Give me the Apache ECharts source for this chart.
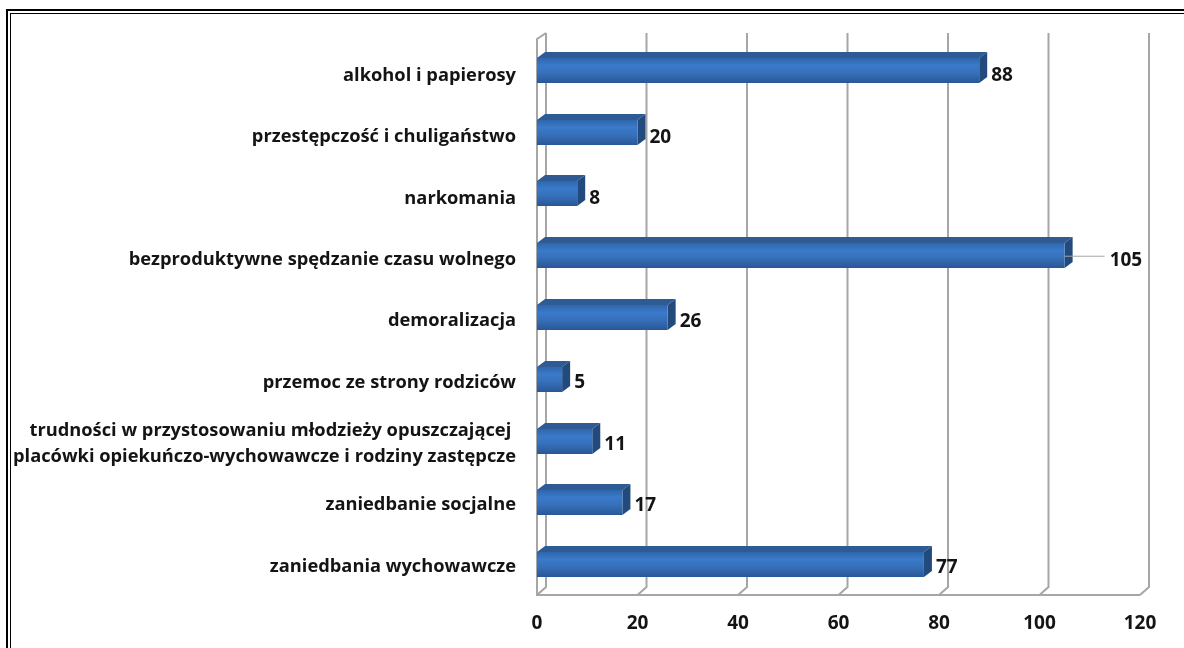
<!DOCTYPE html>
<html>
<head>
<meta charset="utf-8">
<title>chart</title>
<style>
  html, body { margin: 0; padding: 0; background: #fff; overflow: hidden; }
  #main { position: absolute; left: 0; top: 0; width: 1184px; height: 648px; }
  /* podwójna ramka wokół wykresu, bez prawej i dolnej krawędzi */
  .frame { position: absolute; box-sizing: border-box; border-style: solid; border-color: #000; border-right: 0; border-bottom: 0; width: 1200px; height: 700px; }
  .outer { left: 6px; top: 9px; border-width: 2px; }
  .inner { left: 10px; top: 13px; border-width: 1px; }
</style>
<script src="https://cdn.jsdelivr.net/npm/echarts@6/dist/echarts.min.js"></script>
</head>
<body>
<div class="frame outer"></div>
<div class="frame inner"></div>
<div id="main"></div>
<script>
const categories = [
  'alkohol i papierosy',
  'przestępczość i chuligaństwo',
  'narkomania',
  'bezproduktywne spędzanie czasu wolnego',
  'demoralizacja',
  'przemoc ze strony rodziców',
  'trudności w przystosowaniu młodzieży opuszczającej \nplacówki opiekuńczo-wychowawcze i rodziny zastępcze',
  'zaniedbanie socjalne',
  'zaniedbania wychowawcze'
]
const values = [88, 20, 8, 105, 26, 5, 11, 17, 77]
const xTicks = [0, 20, 40, 60, 80, 100, 120]

const DEPTH_X = 9 // przesunięcie tylnej ściany
const DEPTH_Y = 8
const BAR_H = 25
const BAR_DX = 8 // głębokość słupka
const BAR_DY = 6
const GRID_COLOR = '#a6a6a6'
const TEXT_COLOR = '#141414'
const FONT = '"Open Sans", "Noto Sans", sans-serif'

const chart = echarts.init(document.getElementById('main'))

// ściany 3d: linie siatki z zagięciem na podłodze
function renderWall(params, api) {
  const v = api.value(0)
  const rect = params.coordSys
  const x = api.coord([v, 0])[0]
  const bottom = rect.y + rect.height
  const top = rect.y
  const style = { stroke: GRID_COLOR, lineWidth: 2, fill: null }
  const children = [{
    type: 'polyline',
    shape: { points: [[x, bottom], [x + DEPTH_X, bottom - DEPTH_Y], [x + DEPTH_X, top - DEPTH_Y + 2]] },
    style
  }]
  if (v === xTicks[0]) {
    children.push({
      type: 'polyline',
      shape: { points: [[x + DEPTH_X, top - DEPTH_Y + 2], [x, top], [x, bottom], [rect.x + rect.width, bottom]] },
      style
    })
  }
  return { type: 'group', children }
}

function renderBar(params, api) {
  const v = api.value(0)
  const start = api.coord([0, api.value(1)])
  const end = api.coord([v, api.value(1)])
  const x0 = start[0]
  const x1 = end[0]
  const y0 = Math.round(end[1] - BAR_H / 2 + 0.5)
  const y1 = y0 + BAR_H
  const children = [
    { // góra
      type: 'polygon',
      shape: { points: [[x0, y0], [x0 + BAR_DX, y0 - BAR_DY], [x1 + BAR_DX, y0 - BAR_DY], [x1, y0]] },
      style: { fill: '#2f5b94' }
    },
    { // bok
      type: 'polygon',
      shape: { points: [[x1, y0], [x1 + BAR_DX, y0 - BAR_DY], [x1 + BAR_DX, y1 - BAR_DY], [x1, y1]] },
      style: { fill: '#234a7c' }
    },
    { // przód
      type: 'rect',
      shape: { x: x0, y: y0, width: x1 - x0, height: BAR_H },
      style: {
        fill: new echarts.graphic.LinearGradient(0, 0, 0, 1, [
          { offset: 0, color: '#2f66ad' },
          { offset: 0.3, color: '#3a7aca' },
          { offset: 0.6, color: '#3670b9' },
          { offset: 1, color: '#295795' }
        ])
      }
    }
  ]
  // 105 ma etykietę odsuniętą, z linią odniesienia
  let labelX = x1 + BAR_DX + 4
  if (v > 100) {
    labelX = x1 + 45
    children.push({
      type: 'line',
      shape: { x1: x1, y1: end[1] + 1, x2: labelX - 5, y2: end[1] + 1 },
      style: { stroke: GRID_COLOR, lineWidth: 1 }
    })
  }
  children.push({
    type: 'text',
    style: {
      x: labelX,
      y: end[1] + 6 - api.value(1) * 0.35, // etykiety mają nieco mniejszy odstęp niż słupki
      text: String(v),
      fill: TEXT_COLOR,
      font: 'bold 19px ' + FONT,
      textAlign: 'left',
      textVerticalAlign: 'middle'
    }
  })
  return { type: 'group', children }
}

chart.setOption({
  animation: false,
  backgroundColor: 'transparent',
  // druga siatka tylko po to, żeby opisy kategorii leżały niżej niż słupki
  grid: [
    { left: 537, top: 39, width: 603, height: 556 },
    { left: 537, top: 45, width: 603, height: 552 }
  ],
  xAxis: [
    {
      type: 'value',
      min: 0,
      max: 120,
      interval: 20,
      axisLine: { show: false },
      axisTick: { show: false },
      splitLine: { show: false },
      axisLabel: { margin: 19, color: TEXT_COLOR, fontSize: 19, fontWeight: 'bold', fontFamily: FONT }
    },
    { gridIndex: 1, type: 'value', min: 0, max: 120, show: false }
  ],
  yAxis: [
    { type: 'category', inverse: true, data: categories, show: false },
    {
      gridIndex: 1,
      type: 'category',
      inverse: true,
      data: categories,
      axisLine: { show: false },
      axisTick: { show: false },
      axisLabel: { margin: 21, color: TEXT_COLOR, fontSize: 18.3, fontWeight: 'bold', fontFamily: FONT, lineHeight: 26, interval: 0 }
    }
  ],
  series: [
    {
      type: 'custom',
      renderItem: renderWall,
      silent: true,
      z: 1,
      clip: false,
      encode: { x: 0 },
      data: xTicks.map(t => [t])
    },
    {
      type: 'custom',
      renderItem: renderBar,
      z: 2,
      clip: false,
      encode: { x: 0, y: 1 },
      data: values.map((v, i) => [v, i])
    }
  ]
})
</script>
</body>
</html>
